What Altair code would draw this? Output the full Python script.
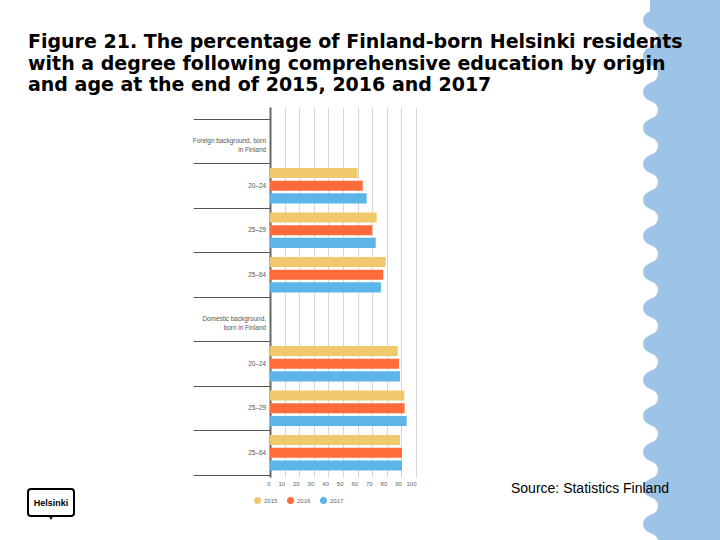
import altair as alt
import pandas as pd

# --- data -------------------------------------------------------------------
row_keys = ["foreign", "f20", "f25", "f2564", "domestic", "d20", "d25", "d2564"]
row_labels = [
    "Foreign background, born\nin Finland", "20–24", "25–29", "25–64",
    "Domestic background,\nborn in Finland", "20–24", "25–29", "25–64",
]
years = ["2015", "2016", "2017"]
bar_rows = ["f20", "f25", "f2564", "d20", "d25", "d2564"]
v2015 = [60.0, 73.0, 79.2, 87.4, 92.0, 89.0]
v2016 = [63.5, 70.0, 77.6, 88.4, 92.2, 90.4]
v2017 = [66.2, 72.4, 76.0, 89.0, 93.6, 90.4]
year_colors = ["#F0C96C", "#FF6B3B", "#5DB4E7"]
x_ticks = list(range(0, 101, 10))

title_text = ("Figure 21. The percentage of Finland-born Helsinki residents\n"
              "with a degree following comprehensive education by origin\n"
              "and age at the end of 2015, 2016 and 2017")
source_text = "Source: Statistics Finland"

bars_df = pd.DataFrame({
    "row": bar_rows * 3,
    "year": [y for y in years for _ in bar_rows],
    "value": v2015 + v2016 + v2017,
})
labels_df = pd.DataFrame({"row": row_keys, "label": row_labels})

# --- shared scales / axes ------------------------------------------------------
y_scale = alt.Scale(domain=row_keys, paddingInner=0, paddingOuter=0.157, align=0.857)
y_axis = alt.Axis(labels=False, title=None, tickBand="extent", tickSize=77,
                  tickColor="#555555", tickWidth=1, domainColor="#666666",
                  domainWidth=2, grid=False)

bars = alt.Chart(bars_df).mark_bar().encode(
    x=alt.X("value:Q", scale=alt.Scale(domain=[0, 100]),
            axis=alt.Axis(values=x_ticks, grid=True, gridColor="#d6d6d6",
                          domain=False, ticks=False, labelFontSize=6,
                          labelColor="#666666", labelPadding=3,
                          labelAlign="right",
                          labelFont="Liberation Sans", title=None)),
    y=alt.Y("row:N", scale=y_scale, axis=y_axis),
    yOffset=alt.YOffset("year:N", scale=alt.Scale(domain=years, paddingInner=0.2,
                                                  paddingOuter=0.35)),
    color=alt.Color("year:N", scale=alt.Scale(domain=years, range=year_colors),
                    legend=alt.Legend(orient="none", legendX=-16, legendY=390,
                                      direction="horizontal", title=None,
                                      symbolType="circle", symbolSize=49,
                                      symbolStrokeWidth=0, labelFontSize=6,
                                      labelColor="#666666", labelOffset=3,
                                      labelFont="Liberation Sans",
                                      columnPadding=9)),
)

row_text = alt.Chart(labels_df).mark_text(
    align="right", baseline="middle", lineBreak="\n", lineHeight=8.5,
    fontSize=6.4, color="#555555", font="Liberation Sans", dx=-4,
).encode(
    x=alt.value(0),
    y=alt.Y("row:N", scale=y_scale, axis=y_axis),
    text="label:N",
)

# --- slide decoration: scalloped blue strip on the right ------------------------
strip = alt.Chart(pd.DataFrame({"a": [0]})).mark_rect(color="#9DC3E6").encode(
    x=alt.value(380), x2=alt.value(450), y=alt.value(-107), y2=alt.value(433)
)
scallop_df = pd.DataFrame({"k": list(range(16))})
bites = alt.Chart(scallop_df).transform_calculate(
    cy="datum.k * 36 - 69"
).mark_circle(color="white", opacity=1, size=324).encode(
    x=alt.value(379), y=alt.Y("cy:Q", scale=None)
)
bumps = alt.Chart(scallop_df).transform_calculate(
    cy="datum.k * 36 - 87"
).mark_circle(color="#9DC3E6", opacity=1, size=324).encode(
    x=alt.value(382), y=alt.Y("cy:Q", scale=None)
)

title = alt.Chart(pd.DataFrame({"t": [title_text]})).mark_text(
    align="left", baseline="alphabetic", lineBreak="\n", lineHeight=21.5,
    font="DejaVu Sans", fontWeight="bold", fontSize=19, color="black",
).encode(x=alt.value(-242), y=alt.value(-59), text="t:N")

source = alt.Chart(pd.DataFrame({"t": [source_text]})).mark_text(
    align="left", baseline="alphabetic", font="Liberation Sans", fontSize=14,
    color="black",
).encode(x=alt.value(241), y=alt.value(386), text="t:N")

# Helsinki logo badge
logo_box = alt.Chart(pd.DataFrame({"a": [0]})).mark_rect(
    fill="white", stroke="black", strokeWidth=2, cornerRadius=3
).encode(x=alt.value(-242), x2=alt.value(-196), y=alt.value(382), y2=alt.value(409))
logo_tip = alt.Chart(pd.DataFrame({"a": [0]})).mark_point(
    shape="triangle-down", filled=True, color="black", size=20, opacity=1
).encode(x=alt.value(-219), y=alt.value(411))
logo_text = alt.Chart(pd.DataFrame({"t": ["Helsinki"]})).mark_text(
    align="center", baseline="middle", font="Liberation Sans",
    fontWeight="bold", fontSize=9, color="black",
).encode(x=alt.value(-219), y=alt.value(396), text="t:N")

chart = alt.layer(
    strip, bites, bumps, bars, row_text, title, source, logo_box, logo_tip, logo_text
).properties(
    width=146, height=370,
    padding={"left": 270, "top": 107, "right": 304, "bottom": 63},
    autosize=alt.AutoSizeParams(type="none"),
    background="white",
).configure_view(stroke=None)

chart.save("out.html", embed_options={"renderer": "svg", "actions": False})
